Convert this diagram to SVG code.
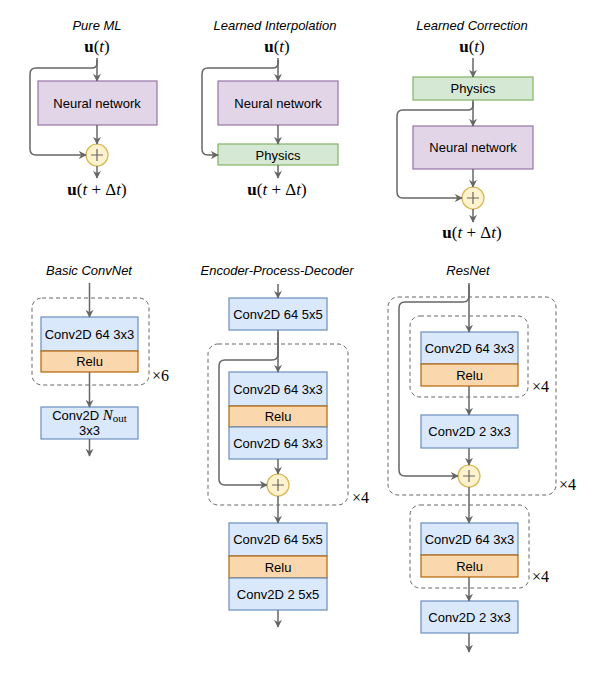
<svg xmlns="http://www.w3.org/2000/svg" width="592" height="673" viewBox="0 0 592 673">
<style>
.t{font-family:"Liberation Sans",Arial,sans-serif;font-size:13px;fill:#000;text-anchor:middle}
.ti{font-family:"Liberation Sans",Arial,sans-serif;font-size:13px;font-style:italic;fill:#000;text-anchor:middle}
.m{font-family:"Liberation Serif","Times New Roman",serif;font-size:17px;fill:#000;text-anchor:middle}
.x{font-family:"Liberation Serif","Times New Roman",serif;font-size:16px;fill:#000}
.b{font-weight:bold}
.i{font-style:italic}
.nn{fill:#e1d5e7;stroke:#9673a6;stroke-width:1.2}
.ph{fill:#d5e8d4;stroke:#82b366;stroke-width:1.2}
.cv{fill:#dae8fc;stroke:#6c8ebf;stroke-width:1.2}
.re{fill:#fad7ac;stroke:#b46504;stroke-width:1.2}
.ci{fill:#fff2cc;stroke:#d6b656;stroke-width:1.2}
.pl{stroke:#666;stroke-width:1.2;fill:none}
.dash{fill:none;stroke:#666;stroke-width:1;stroke-dasharray:4 3}
.c{stroke:#666;stroke-width:1.5;fill:none}
</style>
<defs>
<marker id="a" viewBox="0 0 10 10" refX="9" refY="5" markerWidth="8" markerHeight="8" markerUnits="userSpaceOnUse" orient="auto">
<path d="M0,0 L10,5 L0,10 L3,5 z" fill="#666"/>
</marker>
</defs>

<!-- Titles -->
<g id="titles">
<text class="ti" x="97" y="30">Pure ML</text>
<text class="ti" x="275" y="30">Learned Interpolation</text>
<text class="ti" x="472" y="30">Learned Correction</text>
<text class="ti" x="89" y="275">Basic ConvNet</text>
<text class="ti" x="277" y="275">Encoder-Process-Decoder</text>
<text class="ti" x="468" y="275">ResNet</text>
</g>

<!-- Pure ML -->
<g id="pure-in"><text class="m" x="97" y="52"><tspan class="b">u</tspan>(<tspan class="i">t</tspan>)</text></g>
<g id="pure-nn"><rect class="nn" x="38" y="81" width="119" height="44"/><text class="t" x="97" y="107.5">Neural network</text></g>
<g id="pure-plus"><circle class="ci" cx="97" cy="155" r="11"/><path class="pl" d="M91,155 H103 M97,149 V161"/></g>
<g id="pure-out"><text class="m" x="97" y="195"><tspan class="b">u</tspan>(<tspan class="i">t</tspan> + Δ<tspan class="i">t</tspan>)</text></g>

<!-- Learned Interpolation -->
<g id="li-in"><text class="m" x="277" y="52"><tspan class="b">u</tspan>(<tspan class="i">t</tspan>)</text></g>
<g id="li-nn"><rect class="nn" x="218" y="81" width="120" height="44"/><text class="t" x="278" y="107.5">Neural network</text></g>
<g id="li-ph"><rect class="ph" x="218" y="144" width="120" height="21"/><text class="t" x="278" y="159.5">Physics</text></g>
<g id="li-out"><text class="m" x="277" y="195"><tspan class="b">u</tspan>(<tspan class="i">t</tspan> + Δ<tspan class="i">t</tspan>)</text></g>

<!-- Learned Correction -->
<g id="lc-in"><text class="m" x="472" y="52"><tspan class="b">u</tspan>(<tspan class="i">t</tspan>)</text></g>
<g id="lc-ph"><rect class="ph" x="413" y="77" width="120" height="23"/><text class="t" x="473" y="93">Physics</text></g>
<g id="lc-nn"><rect class="nn" x="413" y="126" width="120" height="43"/><text class="t" x="473" y="152">Neural network</text></g>
<g id="lc-plus"><circle class="ci" cx="473" cy="198" r="11"/><path class="pl" d="M467,198 H479 M473,192 V204"/></g>
<g id="lc-out"><text class="m" x="472" y="238"><tspan class="b">u</tspan>(<tspan class="i">t</tspan> + Δ<tspan class="i">t</tspan>)</text></g>

<!-- Basic ConvNet -->
<g id="bc-loop"><rect class="dash" x="32" y="298" width="117" height="87" rx="10"/><text class="x" x="152" y="381">×6</text></g>
<g id="bc-conv"><rect class="cv" x="41" y="317" width="97" height="34"/><text class="t" x="89.5" y="338.5">Conv2D 64 3x3</text></g>
<g id="bc-relu"><rect class="re" x="41" y="351" width="97" height="21"/><text class="t" x="89.5" y="366">Relu</text></g>
<g id="bc-out"><rect class="cv" x="41" y="407" width="97" height="32"/>
<text class="t" x="89.5" y="420">Conv2D <tspan font-family="Liberation Serif,serif" font-style="italic" font-size="15">N</tspan><tspan font-family="Liberation Serif,serif" font-size="11" dy="2">out</tspan></text>
<text class="t" x="89.5" y="435">3x3</text></g>

<!-- Encoder-Process-Decoder -->
<g id="epd-enc"><rect class="cv" x="229" y="298" width="98" height="32"/><text class="t" x="278" y="318.5">Conv2D 64 5x5</text></g>
<g id="epd-loop"><rect class="dash" x="208" y="344" width="140" height="161" rx="10"/><text class="x" x="352" y="503">×4</text></g>
<g id="epd-c1"><rect class="cv" x="229" y="372" width="98" height="34"/><text class="t" x="278" y="393.5">Conv2D 64 3x3</text></g>
<g id="epd-r1"><rect class="re" x="229" y="406" width="98" height="21"/><text class="t" x="278" y="421">Relu</text></g>
<g id="epd-c2"><rect class="cv" x="229" y="427" width="98" height="32"/><text class="t" x="278" y="447.5">Conv2D 64 3x3</text></g>
<g id="epd-plus"><circle class="ci" cx="278" cy="485" r="11"/><path class="pl" d="M272,485 H284 M278,479 V491"/></g>
<g id="epd-d1"><rect class="cv" x="229" y="523" width="98" height="33"/><text class="t" x="278" y="544">Conv2D 64 5x5</text></g>
<g id="epd-r2"><rect class="re" x="229" y="556" width="98" height="22"/><text class="t" x="278" y="572">Relu</text></g>
<g id="epd-d2"><rect class="cv" x="229" y="578" width="98" height="32"/><text class="t" x="278" y="599">Conv2D 2 5x5</text></g>

<!-- ResNet -->
<g id="rn-outer"><rect class="dash" x="388" y="297" width="168" height="198" rx="10"/><text class="x" x="559" y="490">×4</text></g>
<g id="rn-inner1"><rect class="dash" x="410" y="316" width="118" height="81" rx="10"/><text class="x" x="532" y="392">×4</text></g>
<g id="rn-c1"><rect class="cv" x="421" y="332" width="97" height="32"/><text class="t" x="469.5" y="352.5">Conv2D 64 3x3</text></g>
<g id="rn-r1"><rect class="re" x="421" y="364" width="97" height="22"/><text class="t" x="469.5" y="380">Relu</text></g>
<g id="rn-c2"><rect class="cv" x="421" y="415" width="97" height="33"/><text class="t" x="469.5" y="436">Conv2D 2 3x3</text></g>
<g id="rn-plus"><circle class="ci" cx="469" cy="476" r="11"/><path class="pl" d="M463,476 H475 M469,470 V482"/></g>
<g id="rn-inner2"><rect class="dash" x="410" y="505" width="119" height="83" rx="10"/><text class="x" x="532" y="582">×4</text></g>
<g id="rn-c3"><rect class="cv" x="421" y="523" width="97" height="32"/><text class="t" x="469.5" y="543.5">Conv2D 64 3x3</text></g>
<g id="rn-r2"><rect class="re" x="421" y="555" width="97" height="22"/><text class="t" x="469.5" y="571">Relu</text></g>
<g id="rn-c4"><rect class="cv" x="421" y="601" width="97" height="32"/><text class="t" x="469.5" y="621.5">Conv2D 2 3x3</text></g>

<!-- Connectors -->
<g id="connectors">
<!-- Pure ML -->
<path class="c" d="M97,58 V81" marker-end="url(#a)"/>
<path class="c" d="M97,60 V63 Q97,68 92,68 H36 Q30,68 30,74 V149 Q30,155 36,155 H86" marker-end="url(#a)"/>
<path class="c" d="M97,125 V144" marker-end="url(#a)"/>
<path class="c" d="M97,166 V178" marker-end="url(#a)"/>
<!-- Learned Interpolation -->
<path class="c" d="M278,58 V81" marker-end="url(#a)"/>
<path class="c" d="M278,60 V63 Q278,68 273,68 H208 Q202,68 202,74 V149 Q202,155 208,155 H218" marker-end="url(#a)"/>
<path class="c" d="M278,125 V144" marker-end="url(#a)"/>
<path class="c" d="M278,165 V178" marker-end="url(#a)"/>
<!-- Learned Correction -->
<path class="c" d="M473,58 V77" marker-end="url(#a)"/>
<path class="c" d="M473,100 V126" marker-end="url(#a)"/>
<path class="c" d="M473,102 V105 Q473,110 468,110 H403 Q397,110 397,116 V192 Q397,198 403,198 H462" marker-end="url(#a)"/>
<path class="c" d="M473,169 V187" marker-end="url(#a)"/>
<path class="c" d="M473,209 V222" marker-end="url(#a)"/>
<!-- Basic ConvNet -->
<path class="c" d="M89.5,283 V317" marker-end="url(#a)"/>
<path class="c" d="M89.5,372 V407" marker-end="url(#a)"/>
<path class="c" d="M89.5,439 V456" marker-end="url(#a)"/>
<!-- EPD -->
<path class="c" d="M278,284 V298" marker-end="url(#a)"/>
<path class="c" d="M278,330 V372" marker-end="url(#a)"/>
<path class="c" d="M278,332 V354 Q278,360 272,360 H225 Q219,360 219,366 V479 Q219,485 225,485 H267" marker-end="url(#a)"/>
<path class="c" d="M278,459 V474" marker-end="url(#a)"/>
<path class="c" d="M278,496 V523" marker-end="url(#a)"/>
<path class="c" d="M278,610 V627" marker-end="url(#a)"/>
<!-- ResNet -->
<path class="c" d="M469,283 V332" marker-end="url(#a)"/>
<path class="c" d="M469,285 V296 Q469,302 463,302 H405 Q399,302 399,308 V470 Q399,476 405,476 H458" marker-end="url(#a)"/>
<path class="c" d="M469,386 V415" marker-end="url(#a)"/>
<path class="c" d="M469,448 V465" marker-end="url(#a)"/>
<path class="c" d="M469,487 V523" marker-end="url(#a)"/>
<path class="c" d="M469,577 V601" marker-end="url(#a)"/>
<path class="c" d="M469,633 V652" marker-end="url(#a)"/>
</g>
</svg>
